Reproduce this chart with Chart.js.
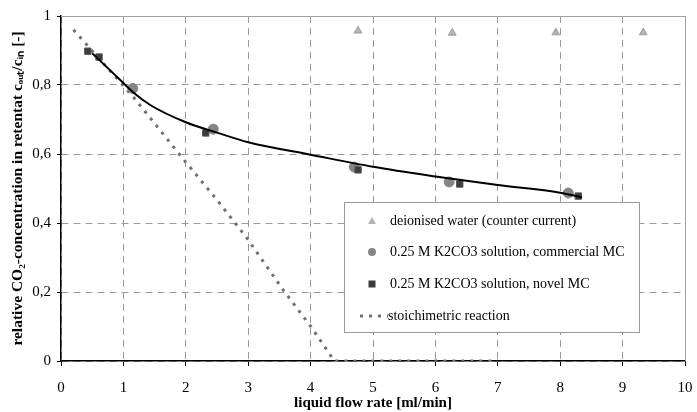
<!DOCTYPE html>
<html>
<head>
<meta charset="utf-8">
<script src="https://cdn.jsdelivr.net/npm/chart.js@4/dist/chart.umd.min.js"></script>
<style>
  html, body { margin: 0; padding: 0; background: #fff; }
  #wrap { width: 697px; height: 412px; }
</style>
</head>
<body>
<div id="wrap"><canvas id="chart"></canvas></div>
<script>
// data
const waterX = [4.76, 6.27, 7.93, 9.33];
const waterY = [0.957, 0.951, 0.952, 0.952];

const commercialX = [1.15, 2.44, 4.70, 6.22, 8.13];
const commercialY = [0.790, 0.672, 0.562, 0.519, 0.487];

const novelX = [0.43, 0.61, 2.32, 4.76, 6.39, 8.29];
const novelY = [0.898, 0.881, 0.661, 0.554, 0.513, 0.478];

const fitX = [0.5, 1.0, 1.16, 1.43, 2.0, 2.5, 3.0, 4.0, 5.0, 6.0, 7.0, 8.0, 8.35];
const fitY = [0.892, 0.806, 0.778, 0.742, 0.692, 0.662, 0.634, 0.598, 0.563, 0.535, 0.510, 0.488, 0.474];

const stoichX = [0.2, 1.16, 2.01, 2.5, 2.98, 3.56, 4.02, 4.38, 7.0];
const stoichY = [0.96, 0.765, 0.574, 0.467, 0.356, 0.206, 0.096, 0, 0];

const xTicks = [0, 1, 2, 3, 4, 5, 6, 7, 8, 9, 10];
const yTicks = [0, 0.2, 0.4, 0.6, 0.8, 1];

function pts(xs, ys) {
    let out = []
    for (let i = 0; i < xs.length; i++)
        out.push({x: xs[i], y: ys[i]})
    return out
}

const serif = "'Liberation Serif', 'Times New Roman', serif";

// frame on top/right + legend box inside the plot
const framePlugin = {
    id: 'frame',
    beforeDatasetsDraw(chart) {
        const a = chart.chartArea, ctx = chart.ctx;
        ctx.save();
        ctx.strokeStyle = '#a0a0a0';
        ctx.lineWidth = 1;
        ctx.beginPath();
        ctx.moveTo(a.left, a.top + 0.5);
        ctx.lineTo(a.right + 0.5, a.top + 0.5);
        ctx.lineTo(a.right + 0.5, a.bottom);
        ctx.stroke();
        ctx.restore();
    },
    afterDatasetsDraw(chart) {
        const ctx = chart.ctx;
        const bx = 344, by = 202, bw = 295, bh = 130;
        ctx.save();
        ctx.fillStyle = '#fff';
        ctx.fillRect(bx, by, bw, bh);
        ctx.strokeStyle = '#9a9a9a';
        ctx.lineWidth = 1;
        ctx.strokeRect(bx + 0.5, by + 0.5, bw, bh);
        const rows = [221, 252, 284, 316];
        const mx = 372, tx = 390;
        ctx.font = "14px " + serif;
        ctx.textBaseline = 'middle';
        ctx.fillStyle = '#000';
        chart.data.datasets.forEach((ds, i) => {
            if (ds.legendRow === undefined) return;
            const y = rows[ds.legendRow];
            ctx.save();
            if (ds.pointStyle === 'triangle') {
                ctx.fillStyle = ds.pointBackgroundColor;
                ctx.beginPath();
                ctx.moveTo(mx, y - 4); ctx.lineTo(mx + 4, y + 3); ctx.lineTo(mx - 4, y + 3);
                ctx.closePath(); ctx.fill();
            } else if (ds.pointStyle === 'circle') {
                ctx.fillStyle = ds.pointBackgroundColor;
                ctx.beginPath(); ctx.arc(mx, y, 4, 0, Math.PI * 2); ctx.fill();
            } else if (ds.pointStyle === 'rect') {
                ctx.fillStyle = ds.pointBackgroundColor;
                ctx.fillRect(mx - 3.5, y - 3.5, 7, 7);
            } else {
                ctx.strokeStyle = ds.borderColor;
                ctx.lineWidth = ds.borderWidth;
                ctx.setLineDash(ds.borderDash);
                ctx.beginPath(); ctx.moveTo(mx - 12, y); ctx.lineTo(tx - 2, y); ctx.stroke();
            }
            ctx.restore();
            ctx.fillText(ds.label, ds.pointStyle ? tx : tx - 2, y);
        });
        ctx.restore();
    }
};

const data = {
    datasets: [
        {
            label: 'stoichimetric reaction',
            data: pts(stoichX, stoichY),
            showLine: true,
            borderColor: '#707070',
            borderWidth: 3,
            borderDash: [3, 6],
            pointRadius: 0,
            legendRow: 3,
            order: 5
        },
        {
            label: 'fit',
            data: pts(fitX, fitY),
            showLine: true,
            borderColor: '#000',
            borderWidth: 2,
            cubicInterpolationMode: 'monotone',
            pointRadius: 0,
            order: 1
        },
        {
            label: 'deionised water (counter current)',
            data: pts(waterX, waterY),
            pointStyle: 'triangle',
            pointRadius: 4.5,
            pointBackgroundColor: '#b3b3b3',
            pointBorderColor: '#a0a0a0',
            pointBorderWidth: 1,
            legendRow: 0,
            order: 4
        },
        {
            label: '0.25 M K2CO3 solution, commercial MC',
            data: pts(commercialX, commercialY),
            pointStyle: 'circle',
            pointRadius: 5,
            pointBackgroundColor: '#858585',
            pointBorderColor: '#858585',
            pointBorderWidth: 1,
            legendRow: 1,
            order: 3
        },
        {
            label: '0.25 M K2CO3 solution, novel MC',
            data: pts(novelX, novelY),
            pointStyle: 'rect',
            pointRadius: 4.5,
            pointBackgroundColor: '#3c3c3c',
            pointBorderColor: '#555',
            pointBorderWidth: 1,
            legendRow: 2,
            order: 2
        }
    ]
};

const config = {
    type: 'scatter',
    data: data,
    plugins: [framePlugin],
    options: {
        responsive: false,
        animation: false,
        layout: { padding: { left: 0, right: 12, top: 16, bottom: 0 } },
        plugins: { legend: { display: false }, tooltip: { enabled: false } },
        scales: {
            x: {
                type: 'linear', min: 0, max: 10,
                afterBuildTicks: (s) => { s.ticks = xTicks.map(v => ({value: v})) },
                afterFit: (s) => { s.height = 51; s.paddingLeft = 0; s.paddingRight = 0 },
                grid: { color: '#9a9a9a', lineWidth: 1, tickColor: '#000', tickLength: 5, tickBorderDash: [] },
                border: { color: '#000', width: 1.5, dash: [7, 5] },
                ticks: { color: '#000', font: { family: serif, size: 15 }, padding: 13, maxRotation: 0 },
                title: { display: true, text: 'liquid flow rate [ml/min]', color: '#000',
                         font: { family: serif, size: 15, weight: 'bold' }, padding: { top: 0, bottom: 0 } }
            },
            y: {
                type: 'linear', min: 0, max: 1,
                afterBuildTicks: (s) => { s.ticks = yTicks.map(v => ({value: v})) },
                afterFit: (s) => { s.width = 61 },
                grid: { color: '#9a9a9a', lineWidth: 1, tickColor: '#000', tickLength: 4, tickBorderDash: [] },
                border: { color: '#000', width: 1.5, dash: [7, 5] },
                ticks: { color: '#000', font: { family: serif, size: 15 }, padding: 6,
                         callback: (v) => String(Math.round(v * 10) / 10).replace('.', ',') },
                title: { display: true, text: 'relative CO\u2082-concentration in retentat c\u2092\u1d64\u209c/c\u1d62\u2099 [-]', color: '#000',
                         font: { family: serif, size: 15.5, weight: 'bold' }, padding: { top: 9, bottom: 0 } }
            }
        }
    }
};

const canvas = document.getElementById('chart');
canvas.width = 697; canvas.height = 412;
new Chart(canvas.getContext('2d'), config);
</script>
</body>
</html>
